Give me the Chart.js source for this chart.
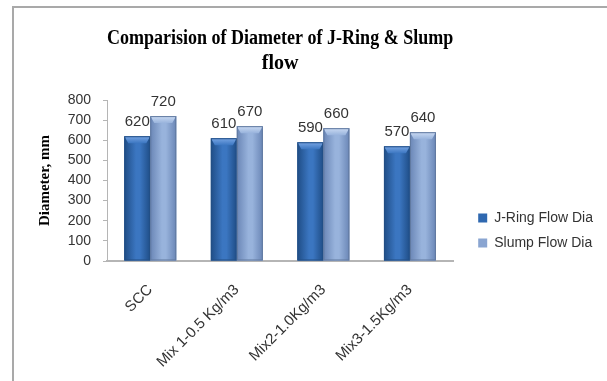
<!DOCTYPE html>
<html>
<head>
<meta charset="utf-8">
<script src="https://cdn.jsdelivr.net/npm/chart.js@4.4.1/dist/chart.umd.min.js"></script>
<style>
  html, body { margin: 0; padding: 0; background: #fff; }
  #wrap { position: relative; width: 607px; height: 381px; }
</style>
</head>
<body>
<div id="wrap"><canvas id="flowChart" width="607" height="381"></canvas></div>
<script>
// Diamètres J-Ring / Slump flow par mélange
const mixes = ['SCC', 'Mix 1-0.5 Kg/m3', 'Mix2-1.0Kg/m3', 'Mix3-1.5Kg/m3'];
const jRingDia = [620, 610, 590, 570];
const slumpDia = [720, 670, 660, 640];
const yTicks = [0, 100, 200, 300, 400, 500, 600, 700, 800];

const sans = '"Liberation Sans", Arial, sans-serif';
const serif = '"Liberation Serif", "Times New Roman", serif';

// teintes des barres : bord, centre, reflet du haut
const shades = [
    { edge: '#1f4d86', mid: '#3b76c1', cap: '#79a6e4', line: '#234f85' },
    { edge: '#6a86b6', mid: '#98b3dc', cap: '#cbdbf3', line: '#61799f' }
];

// cadre gris (haut et gauche)
const framePlugin = {
    id: 'frame',
    beforeDraw(chart) {
        const c = chart.ctx;
        c.save();
        c.strokeStyle = '#a9a9a9';
        c.lineWidth = 2;
        c.beginPath();
        c.moveTo(13, chart.height);
        c.lineTo(13, 7);
        c.lineTo(chart.width, 7);
        c.stroke();
        c.restore();
    }
};

// dégradé + biseau sur chaque barre, puis valeur au-dessus
const bevelPlugin = {
    id: 'bevel',
    afterDatasetsDraw(chart) {
        const c = chart.ctx;
        chart.data.datasets.forEach((ds, di) => {
            const s = shades[di];
            chart.getDatasetMeta(di).data.forEach((bar, i) => {
                const left = bar.x - bar.width / 2;
                const right = bar.x + bar.width / 2;
                const top = bar.y, bottom = bar.base;
                c.save();
                const g = c.createLinearGradient(left, 0, right, 0);
                g.addColorStop(0, s.edge);
                g.addColorStop(0.45, s.mid);
                g.addColorStop(0.6, s.mid);
                g.addColorStop(1, s.edge);
                c.fillStyle = g;
                c.fillRect(left, top, bar.width, bottom - top);

                // reflet du dessus
                const cap = 7;
                const gc = c.createLinearGradient(0, top, 0, top + cap);
                gc.addColorStop(0, s.cap);
                gc.addColorStop(1, s.mid);
                c.fillStyle = gc;
                c.beginPath();
                c.moveTo(left, top);
                c.lineTo(right, top);
                c.lineTo(right - 4, top + cap);
                c.lineTo(left + 4, top + cap);
                c.closePath();
                c.fill();

                c.strokeStyle = s.line;
                c.lineWidth = 1;
                c.strokeRect(left + 0.5, top + 0.5, bar.width - 1, bottom - top - 1);

                c.fillStyle = '#333';
                c.font = '15px ' + sans;
                c.textAlign = 'center';
                c.textBaseline = 'bottom';
                c.fillText(ds.data[i], bar.x, top - 7);
                c.restore();
            });
        });
    }
};

new Chart(document.getElementById('flowChart'), {
    type: 'bar',
    data: {
        labels: mixes,
        datasets: [
            { label: 'J-Ring Flow Dia', data: jRingDia, backgroundColor: '#2f68b0', borderWidth: 0 },
            { label: 'Slump Flow Dia', data: slumpDia, backgroundColor: '#8aa5d1', borderWidth: 0 }
        ]
    },
    options: {
        responsive: false,
        animation: false,
        layout: { padding: { left: 0, right: 4, top: 0, bottom: 0 } },
        datasets: { bar: { categoryPercentage: 0.6, barPercentage: 1 } },
        plugins: {
            title: {
                display: true,
                fullSize: false,
                text: ['Comparision of Diameter of J-Ring & Slump', 'flow'],
                font: { family: serif, size: 20, weight: 'bold', lineHeight: 1.25 },
                color: '#000',
                padding: { top: 26, bottom: 24 }
            },
            legend: {
                position: 'right',
                fullSize: false,
                align: 'end',
                maxWidth: 220,
                labels: {
                    boxWidth: 9,
                    boxHeight: 9,
                    padding: 11,
                    color: '#333',
                    font: { family: sans, size: 14 }
                }
            },
            tooltip: { enabled: false }
        },
        scales: {
            x: {
                grid: { display: false },
                border: { color: '#b5b5b5', width: 2 },
                ticks: {
                    minRotation: 45,
                    maxRotation: 45,
                    padding: 12,
                    color: '#333',
                    font: { family: sans, size: 15 }
                },
                afterFit: (s) => { s.height = 120; }
            },
            y: {
                min: 0,
                max: 800,
                afterBuildTicks: (s) => { s.ticks = yTicks.map(v => ({ value: v })); },
                grid: { drawOnChartArea: false, tickLength: 4, color: '#b5b5b5' },
                border: { color: '#b5b5b5', width: 1 },
                ticks: {
                    padding: 12,
                    color: '#333',
                    font: { family: sans, size: 14 }
                },
                title: {
                    display: true,
                    text: 'Diameter, mm',
                    color: '#000',
                    font: { family: serif, size: 15, weight: 'bold' },
                    padding: { top: 36, bottom: 0 }
                },
                afterFit: (s) => { s.width = 107; }
            },
            // marge vide entre le graphique et la légende
            gap: {
                type: 'linear',
                position: 'right',
                display: true,
                grid: { display: false },
                border: { display: false },
                ticks: { display: false },
                afterFit: (s) => { s.width = 14; }
            }
        }
    },
    plugins: [framePlugin, bevelPlugin]
});
</script>
</body>
</html>
